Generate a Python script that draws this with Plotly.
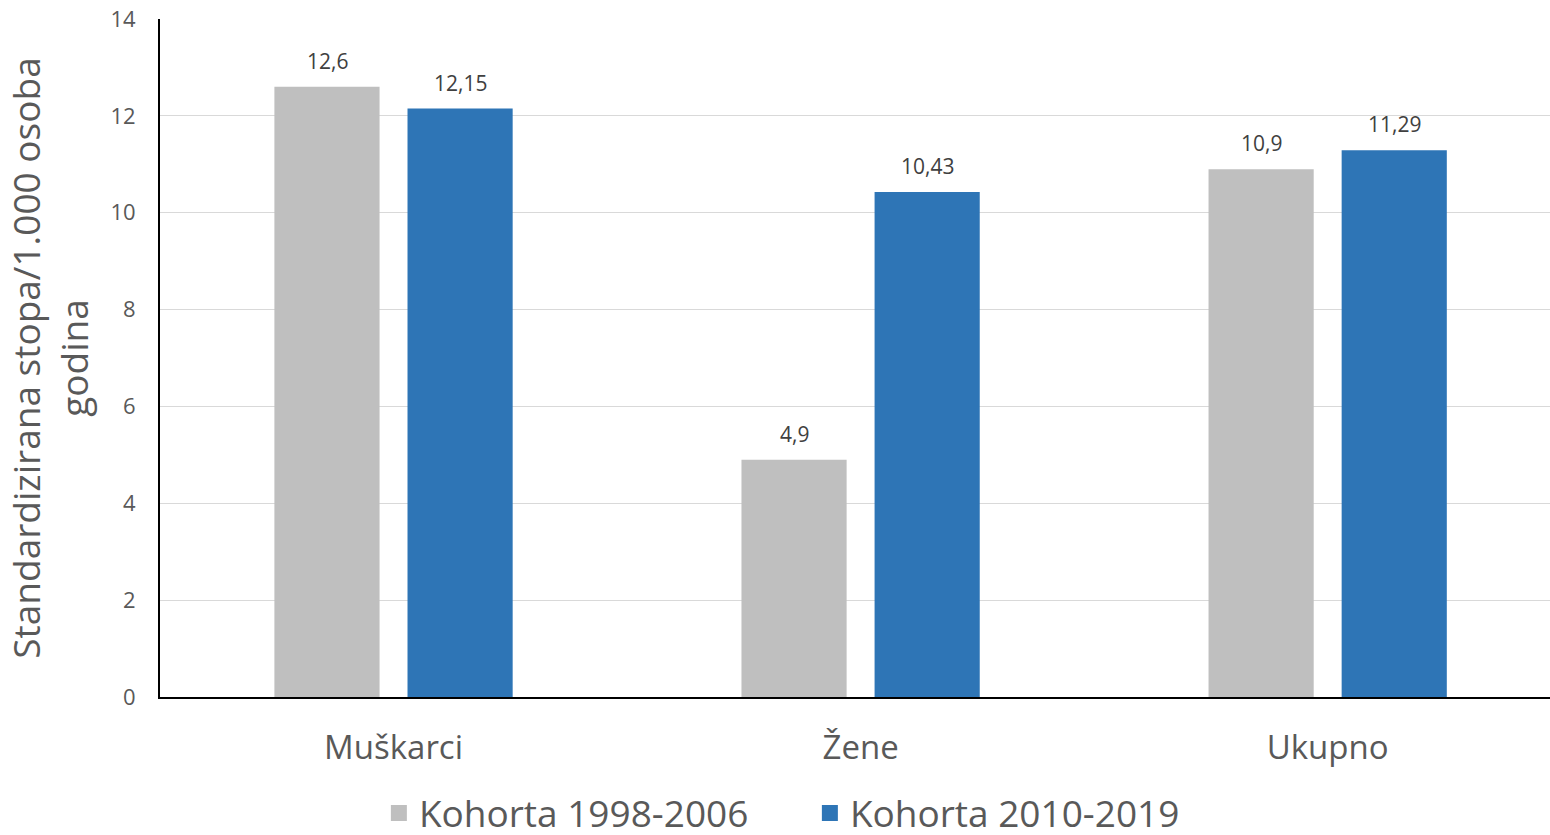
import plotly.graph_objects as go

categories = ["Muškarci", "Žene", "Ukupno"]
series_names = ["Kohorta 1998-2006", "Kohorta 2010-2019"]
values_1998 = [12.6, 4.9, 10.9]
values_2010 = [12.15, 10.43, 11.29]
colors = ["#bfbfbf", "#2e75b6"]
y_ticks = [0, 2, 4, 6, 8, 10, 12, 14]

def fmt(v):
    return str(v).replace(".", ",")

fig = go.Figure()
for name, vals, col in zip(series_names, [values_1998, values_2010], colors):
    fig.add_trace(go.Bar(x=categories, y=vals, name=name, marker_color=col,
                         marker_line_width=0, showlegend=False))
# legend entries with square swatches
for name, col in zip(series_names, colors):
    fig.add_trace(go.Scatter(x=[None], y=[None], mode="markers", name=name,
                             marker=dict(symbol="square", size=23, color=col)))

for vals, shift in zip([values_1998, values_2010], [-66.5, 66.5]):
    for c, v in zip(categories, vals):
        fig.add_annotation(x=c, y=v, text=fmt(v), showarrow=False, xshift=shift,
                           yshift=26, font=dict(family="Open Sans", size=21, color="#404040"))

fig.update_layout(
    width=1550, height=835,
    margin=dict(l=160, r=0, t=19, b=138, autoexpand=False),
    paper_bgcolor="white", plot_bgcolor="white",
    barmode="group", bargap=0.43, bargroupgap=0.21,
    font=dict(family="Open Sans", color="#595959"),
    showlegend=True,
    legend=dict(orientation="h", xref="container", x=0.5225, xanchor="center",
                y=-0.126, yanchor="top",
                font=dict(size=37, color="#595959"), itemwidth=30, entrywidth=386,
                traceorder="normal"),
    xaxis=dict(range=[-0.5, 2.476], showline=True, linecolor="black", linewidth=2,
               ticks="", tickfont=dict(size=33, color="#595959"), ticklabelstandoff=20,
               automargin=False),
    yaxis=dict(range=[0, 14], tickvals=y_ticks, showgrid=True, gridcolor="#d9d9d9",
               gridwidth=1, showline=True, linecolor="black", linewidth=2,
               zeroline=False, tickfont=dict(size=22, color="#595959"), ticklabelstandoff=18,
               automargin=False,
               title=dict(text="Standardizirana stopa/1.000 osoba<br>godina",
                          font=dict(size=37, color="#595959"), standoff=28)),
)

fig.write_html("out.html", config={"displayModeBar": False},
               post_script="document.body.style.margin='0px';")
